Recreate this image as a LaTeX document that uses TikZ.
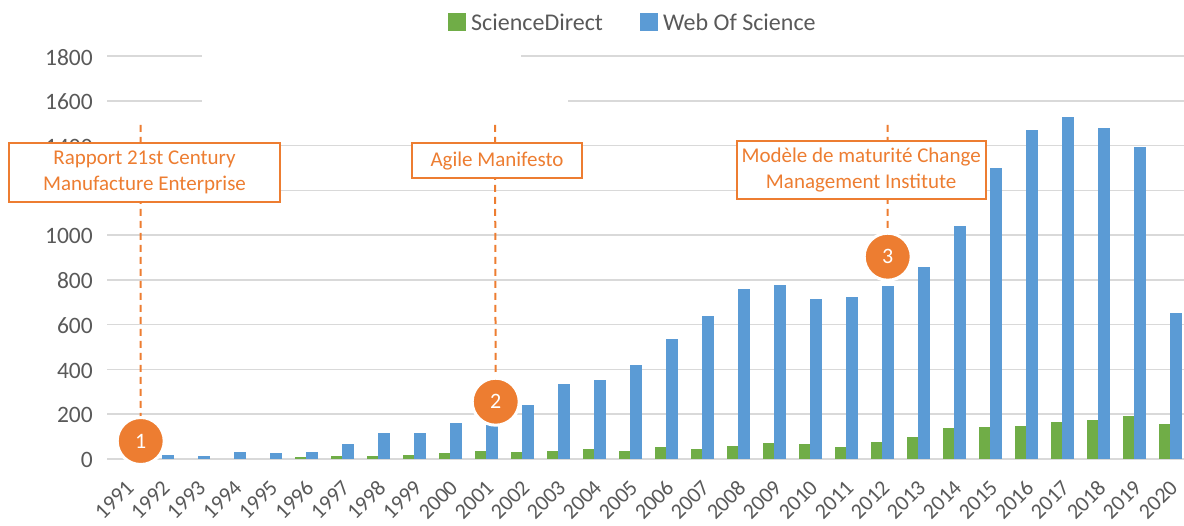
\documentclass[tikz,border=0pt]{standalone}
\usepackage{fontspec}
\setmainfont{Carlito}
\definecolor{sdgreen}{HTML}{70AD47}
\definecolor{wosblue}{HTML}{5B9BD5}
\definecolor{evorange}{HTML}{ED7D31}
\definecolor{axgray}{HTML}{595959}
\definecolor{gridgray}{HTML}{D9D9D9}
\begin{document}
\begin{tikzpicture}[x=1pt,y=-1pt,
  gridline/.style={draw=gridgray, line width=1.5pt},
  ylab/.style={anchor=east, text=axgray, font=\fontsize{23.5}{26}\selectfont, inner sep=0pt},
  xlab/.style={anchor=east, rotate=45, text=axgray, font=\fontsize{22}{26}\selectfont, inner sep=0pt},
  legsq/.style={minimum size=18pt, inner sep=0pt},
  legtxt/.style={anchor=west, text=axgray, font=\fontsize{24}{26}\selectfont, inner sep=0pt},
  evbox/.style={draw=evorange, line width=2pt, fill=white, text=evorange, align=center,
     font=\fontsize{21}{26}\selectfont, inner sep=0pt},
  evdash/.style={draw=evorange, line width=2pt, dash pattern=on 7pt off 5pt},
  numdot/.style={circle, fill=evorange, draw=white, line width=3pt, minimum size=47pt,
     inner sep=0pt, text=white, font=\fontsize{22}{24}\selectfont}
]
\useasboundingbox (0,0) rectangle (1184,526);

% gridlines
\foreach \v in {0,200,400,600,800,1000,1200,1400}{
  \draw[gridline] (107,{459-0.22375*\v}) -- (1184,{459-0.22375*\v});
}
\draw[gridline] (107,56.25) -- (202,56.25);
\draw[gridline] (521,56.25) -- (1184,56.25);
\draw[gridline] (107,101) -- (202,101);
\draw[gridline] (568,101) -- (1184,101);

% y labels
\foreach \v in {0,200,400,600,800,1000,1400,1600,1800}{
  \node[ylab] (y\v) at (93,{460-0.22375*\v}) {\v};
}

% bars and x labels
\foreach \yr/\g/\b [count=\i from 0] in {1991/0/5,1992/0/18,1993/0/15,1994/0/33,1995/0/25,
  1996/10/33,1997/13/67,1998/13/118,1999/18/115,2000/25/162,2001/37/155,2002/33/241,
  2003/36/334,2004/45/352,2005/36/420,2006/52/535,2007/45/640,2008/57/760,2009/70/778,
  2010/66/715,2011/55/724,2012/77/773,2013/100/858,2014/137/1041,2015/142/1300,
  2016/147/1470,2017/164/1530,2018/174/1478,2019/194/1396,2020/155/652}{
  \pgfmathsetmacro\cx{126+36*\i}
  \ifnum\g>0
    \fill[sdgreen] (\cx-11.5,459) rectangle (\cx,{459-0.22375*\g});
  \fi
  \fill[wosblue] (\cx,459) rectangle (\cx+11.5,{459-0.22375*\b});
  \node[xlab] (x\yr) at (\cx+4,484) {\yr};
}

% legend
\node[legsq, fill=sdgreen] (lsq1) at (457,22) {};
\node[legtxt] (ltx1) at (471,22) {ScienceDirect};
\node[legsq, fill=wosblue] (lsq2) at (649,22) {};
\node[legtxt] (ltx2) at (663,22) {Web Of Science};

% event markers
\node[numdot] (n1) at (140.7,441) {1};
\node[numdot] (n2) at (495.7,401.7) {2};
\node[numdot] (n3) at (887.7,256.7) {3};

\coordinate (t1) at (140.5,125);
\coordinate (t2) at (495,125);
\coordinate (t3) at (887.5,125);
\draw[evdash] (t1) -- (n1);
\draw[evdash] (t2) -- (n2);
\draw[evdash] (t3) -- (n3);

\node[evbox, minimum width=271pt, minimum height=59pt] (b1) at (144.5,172.5)
  {Rapport 21st Century\\Manufacture Enterprise};
\node[evbox, minimum width=170pt, minimum height=35pt] (b2) at (497,160.7)
  {Agile Manifesto};
\node[evbox, minimum width=249pt, minimum height=58pt] (b3) at (861.2,170.2)
  {Modèle de maturité Change\\Management Institute};
\end{tikzpicture}
\end{document}
